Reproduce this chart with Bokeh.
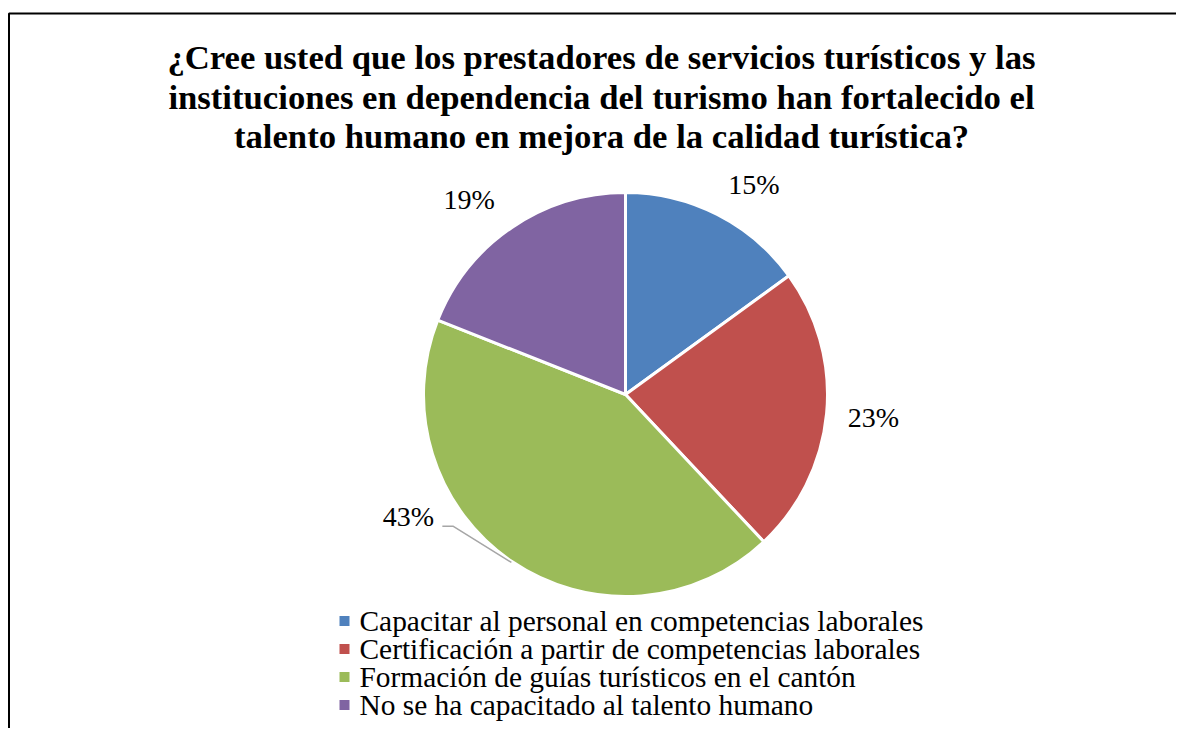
import math
import numpy as np
from bokeh.plotting import figure
from bokeh.models import Range1d, ColumnDataSource
from bokeh.core.properties import value
from bokeh.embed import file_html
from bokeh.resources import INLINE

# ---- data ----
categories = [
    "Capacitar al personal en competencias laborales",
    "Certificación a partir de competencias laborales",
    "Formación de guías turísticos en el cantón",
    "No se ha capacitado al talento humano",
]
shares = [15, 23, 43, 19]
labels = ["15%", "23%", "43%", "19%"]
colors = ["#4F81BD", "#C0504D", "#9BBB59", "#8064A2"]
title_lines = [
    "¿Cree usted que los prestadores de servicios turísticos y las",
    "instituciones en dependencia del turismo han fortalecido el",
    "talento humano en mejora de la calidad turística?",
]

# ---- layout ----
W, H = 1176, 728
FONT = value("Liberation Serif")


def px(x):
    return x - 1


def py(y):
    return 729 - y


cx, cy, R = px(626), py(395), 202
label_r = [246, 249, 249, 250]
label_shift = [4.5, 0.0, 26.5, -4.5]  # degrees, label placement adjustments

p = figure(width=W, height=H, output_backend="svg", toolbar_location=None,
           x_range=Range1d(0, W), y_range=Range1d(0, H),
           x_axis_location=None, y_axis_location=None, min_border=0)
p.grid.visible = False
p.outline_line_color = None
p.background_fill_color = "white"
p.border_fill_color = "white"

# border of the chart area (top and left visible)
p.line([px(9.5), px(9.5), W], [0, py(14), py(14)], line_color="black", line_width=2)

# title
for i, t in enumerate(title_lines):
    p.text(x=[px(602)], y=[py(58 + 39.5 * i)], text=[t], text_font=FONT,
           text_font_size="34.7px", text_font_style="bold", text_align="center",
           text_baseline="middle", text_color="black")

# pie
vals = np.array(shares, dtype=float)
frac = vals / vals.sum()
cum = np.cumsum(frac)
prev = cum - frac
start = np.radians(90 - 360 * cum)
end = np.radians(90 - 360 * prev)
src = ColumnDataSource(dict(start=start, end=end, color=colors, cat=categories))
p.wedge(x=cx, y=cy, radius=R, radius_units="screen", start_angle="start",
        end_angle="end", direction="anticlock", fill_color="color",
        line_color="white", line_width=3, source=src)

# labels
mid = 360 * (prev + frac / 2)
la = np.radians(mid + np.array(label_shift))
lr = np.array(label_r)
lx = cx + lr * np.sin(la)
ly = cy + lr * np.cos(la)
p.text(x=lx, y=ly, text=labels, text_font=FONT, text_font_size="28px",
       text_align="center", text_baseline="middle", text_color="black")

# leader line for the displaced label
k = 2
ma = math.radians(mid[k])
ex, ey = cx + (R + 1) * math.sin(ma), cy + (R + 1) * math.cos(ma)
sx, sy = lx[k] + 34, ly[k] - 10
p.line([sx, sx + 11, ex], [sy, sy, ey], line_color="#A6A6A6", line_width=1.5)

# legend
n = len(categories)
ctr = np.array([py(621.5 + 28 * i) for i in range(n)])
p.rect(x=[px(345)] * n, y=ctr, width=10, height=10, fill_color=colors,
       line_color=None)
p.text(x=[px(360)] * n, y=ctr, text=categories, text_font=FONT,
       text_font_size="29.4px", text_align="left", text_baseline="middle",
       text_color="black")

open("out.html", "w").write(file_html(p, INLINE))
